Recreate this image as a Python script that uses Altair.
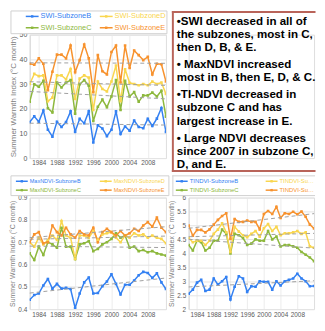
import altair as alt
import pandas as pd

years = list(range(1982, 2013))

swi_B = [14.6, 16.9, 14.7, 19.3, 11.5, 8.7, 14.7, 12.6, 14.6, 18.9, 10.7, 15.9, 14.1, 18.9, 6.3,
         13.3, 12.0, 8.9, 11.5, 18.9, 9.8, 12.8, 11.1, 15.2, 12.6, 12.1, 15.9, 13.0, 16.0, 20.3, 10.6]
swi_C = [22.8, 29.9, 28.9, 31.3, 20.2, 18.5, 30.6, 28.6, 30.6, 31.6, 18.0, 29.9, 31.6, 29.3, 15.0,
         20.8, 23.7, 20.6, 25.0, 31.6, 19.5, 31.3, 25.0, 26.7, 22.8, 25.4, 25.4, 26.5, 25.0, 27.3, 16.8]
swi_D = [30.0, 34.1, 33.2, 33.5, 23.0, 24.5, 33.5, 33.5, 31.9, 36.1, 24.0, 32.2, 33.5, 32.6, 19.5,
         31.0, 28.0, 27.0, 31.0, 37.5, 23.0, 36.0, 30.5, 30.0, 29.5, 30.0, 29.5, 31.0, 30.0, 30.6, 26.0]
swi_E = [38.2, 37.8, 40.4, 38.2, 27.5, 35.0, 41.9, 41.9, 40.4, 45.6, 34.8, 39.7, 46.0, 40.4, 26.7,
         41.7, 35.2, 33.9, 43.0, 45.6, 30.6, 45.6, 36.5, 43.6, 41.7, 39.7, 41.0, 33.9, 38.2, 38.0, 31.0]

max_B = [0.442, 0.463, 0.470, 0.506, 0.535, 0.492, 0.513, 0.492, 0.495, 0.490, 0.405, 0.470, 0.520,
         0.542, 0.470, 0.472, 0.503, 0.524, 0.556, 0.513, 0.466, 0.509, 0.509, 0.528, 0.552, 0.567,
         0.562, 0.540, 0.560, 0.520, 0.490]
max_C = [0.650, 0.620, 0.680, 0.643, 0.700, 0.690, 0.675, 0.765, 0.680, 0.680, 0.625, 0.690, 0.695,
         0.705, 0.660, 0.670, 0.690, 0.700, 0.715, 0.740, 0.720, 0.730, 0.675, 0.680, 0.660, 0.665,
         0.655, 0.660, 0.650, 0.645, 0.640]
max_D = [0.700, 0.680, 0.720, 0.690, 0.710, 0.730, 0.710, 0.795, 0.730, 0.720, 0.625, 0.730, 0.730,
         0.720, 0.750, 0.710, 0.735, 0.740, 0.745, 0.720, 0.700, 0.730, 0.720, 0.740, 0.730, 0.735,
         0.720, 0.730, 0.720, 0.715, 0.695]
max_E = [0.700, 0.735, 0.745, 0.695, 0.700, 0.775, 0.745, 0.730, 0.765, 0.735, 0.720, 0.750, 0.735,
         0.730, 0.765, 0.700, 0.745, 0.760, 0.745, 0.730, 0.750, 0.730, 0.740, 0.760, 0.750, 0.775,
         0.790, 0.770, 0.810, 0.765, 0.745]

ti_B = [2.55, 2.70, 2.95, 3.05, 2.65, 2.70, 3.10, 2.88, 3.00, 3.15, 2.35, 2.80, 3.18, 3.10, 2.62,
        2.82, 2.80, 3.00, 2.98, 2.98, 2.70, 3.00, 2.85, 3.00, 3.05, 3.10, 3.27, 3.10, 3.00, 2.82, 2.83]
ti_C = [4.30, 4.10, 4.45, 4.40, 4.10, 4.20, 4.45, 4.45, 4.85, 4.70, 4.00, 4.70, 4.65, 4.55, 4.30,
        4.35, 4.50, 4.45, 4.45, 4.80, 4.50, 4.60, 4.25, 4.30, 4.30, 4.25, 4.20, 4.05, 3.95, 3.85, 3.72]
ti_D = [4.55, 4.40, 4.45, 4.45, 4.30, 4.45, 4.70, 4.85, 5.08, 4.75, 4.05, 4.95, 4.78, 4.65, 4.58,
        4.70, 4.80, 4.60, 4.90, 5.05, 4.80, 4.95, 4.65, 4.72, 4.72, 4.75, 4.80, 4.70, 4.75, 4.25, 4.20]
ti_E = [5.00, 4.63, 4.84, 4.84, 4.75, 4.86, 5.03, 5.20, 5.34, 5.44, 4.52, 5.23, 5.13, 5.13, 5.18,
        5.13, 5.13, 4.86, 5.41, 5.52, 5.41, 5.67, 5.27, 5.44, 5.41, 5.49, 5.40, 5.50, 5.31, 5.03, 4.89]

x_labels = [1984, 1988, 1992, 1996, 2000, 2004, 2008]
swi_ticks = [0, 10, 20, 30, 40, 50]
max_ticks = [0.4, 0.5, 0.6, 0.7, 0.8, 0.9]
ti_ticks = [2, 2.5, 3, 3.5, 4, 4.5, 5, 5.5, 6]

paragraphs = [
    "•SWI decreased in all of\nthe subzones, most in C,\nthen D, B, & E.",
    "• MaxNDVI increased\nmost in B, then E, D, & C.",
    "•TI-NDVI decreased in\nsubzone C and has\nlargest increase in E.",
    "• Large NDVI decreases\nsince 2007 in subzone C,\nD, and E.",
]

Y_TITLE = "Summer Warmth Index (°C month)"
FONT = "Liberation Sans"
COLORS = {"B": "#3380f2", "C": "#8db83d", "D": "#f9d64f", "E": "#f7922e"}
ORDER = ["B", "D", "C", "E"]   # legend reading order: row 1 = B, D ; row 2 = C, E
ONE = pd.DataFrame({"a": [0]})


def long_df(prefix, series):
    rows = []
    for k, vals in series.items():
        for yr, v in zip(years, vals):
            rows.append({"year": yr, "value": v, "series": f"{prefix}-Subzone{k}"})
    return pd.DataFrame(rows)


def open_box(x0, x1, y0, y1, color, sw, fill=None):
    """Box with top, left and bottom sides (right side runs off the page)."""
    out = []
    if fill:
        out.append(alt.Chart(ONE).mark_rect(fill=fill).encode(
            x=alt.value(x0), x2=alt.value(x1), y=alt.value(y0), y2=alt.value(y1)))
    for (a, b, c, d) in [(x0, x1, y0, y0), (x0, x1, y1, y1), (x0, x0, y0, y1)]:
        out.append(alt.Chart(ONE).mark_rule(color=color, strokeWidth=sw, strokeCap="square").encode(
            x=alt.value(a), x2=alt.value(b), y=alt.value(c), y2=alt.value(d)))
    return out


def legend_layers(prefix, lg):
    """Excel-like boxed legend drawn as marks, 2 columns x 2 rows."""
    b = lg["box"]
    if lg.get("open"):
        layers = open_box(b[0], b[1], b[2], b[3], "#d0d0d0", 1, fill="white")
    else:
        layers = [alt.Chart(ONE).mark_rect(fill="white", stroke="#d0d0d0", strokeWidth=1).encode(
            x=alt.value(b[0]), x2=alt.value(b[1]), y=alt.value(b[2]), y2=alt.value(b[3]))]
    for i, k in enumerate(ORDER):
        col, row = i % 2, i // 2
        sx = lg["cols"][col]
        ry = lg["rows"][row]
        c = COLORS[k]
        layers.append(alt.Chart(ONE).mark_rule(color=c, strokeWidth=1.5).encode(
            x=alt.value(sx), x2=alt.value(sx + lg["sym"]), y=alt.value(ry)))
        layers.append(alt.Chart(ONE).mark_square(color=c, size=6, opacity=1).encode(
            x=alt.value(sx + lg["sym"] / 2), y=alt.value(ry)))
        tkw = dict(align="left", baseline="middle", fontSize=lg["fs"], font=FONT, color=c)
        if lg.get("limit") and col == 1:
            tkw.update(limit=lg["limit"], ellipsis="")
        layers.append(alt.Chart(ONE).mark_text(**tkw).encode(
            x=alt.value(sx + lg["sym"] + lg["gap"]), y=alt.value(ry),
            text=alt.value(f"{prefix}-Subzone{k}")))
    return layers


def panel(prefix, series, ydomain, yticks, yfmt, W, H, lg, xlab_fs, ylab_fs, title_fs, title_x):
    df = long_df(prefix, series)
    dom = [f"{prefix}-Subzone{k}" for k in ORDER]
    rng = [COLORS[k] for k in ORDER]
    xaxis = alt.Axis(values=x_labels, format="d", labelFontSize=xlab_fs,
                     labelColor="#595959", tickSize=0, labelPadding=2, domain=False,
                     labelOverlap=False, labelBound=False, labelFlush=False,
                     grid=True, gridColor="#ececec", title=None, labelFont=FONT)
    yaxis = alt.Axis(values=yticks, format=yfmt, labelFontSize=ylab_fs,
                     labelColor="#595959", tickSize=0, labelPadding=3, labelOverlap=False,
                     domainColor="#d9d9d9", grid=True, gridColor="#e4e4e4",
                     title=Y_TITLE, titleFontSize=title_fs, titleColor="#808080",
                     titleFontWeight="normal", titleX=title_x, titleFont=FONT, labelFont=FONT)
    xs = alt.Scale(domain=[1982, 2012], nice=False, zero=False)
    ys = alt.Scale(domain=ydomain, nice=False, zero=False)
    base = alt.Chart(df)
    lines = base.mark_line(
        strokeWidth=1.5, clip=True,
        point=alt.OverlayMarkDef(shape="square", size=7, filled=True),
    ).encode(x=alt.X("year:Q", scale=xs, axis=xaxis),
             y=alt.Y("value:Q", scale=ys, axis=yaxis),
             color=alt.Color("series:N", scale=alt.Scale(domain=dom, range=rng), legend=None))
    trend = base.transform_regression("year", "value", groupby=["series"]).mark_line(
        strokeDash=[4, 3], color="#a0a0a0", strokeWidth=1
    ).encode(x=alt.X("year:Q", scale=xs, axis=xaxis),
             y=alt.Y("value:Q", scale=ys, axis=yaxis), detail="series:N")
    return alt.layer(lines, trend, *legend_layers(prefix, lg)).properties(width=W, height=H)


swi = panel("SWI", {"B": swi_B, "C": swi_C, "D": swi_D, "E": swi_E}, [0, 50], swi_ticks, "d",
            138, 125,
            {"box": (-19, 139, -24, -1), "cols": (-4, 71), "rows": (-18.5, -7), "sym": 13,
             "gap": 2, "fs": 7.5},
            6.5, 7, 8, -12)

maxp = panel("MaxNDVI", {"B": max_B, "C": max_C, "D": max_D, "E": max_E}, [0.4, 0.9], max_ticks,
             ".1f", 138, 113,
             {"box": (-19, 141, -22, -2), "cols": (-14, 71), "rows": (-16.5, -7.5), "sym": 12,
              "gap": 2, "fs": 5.6},
             6.5, 6.5, 7, -14)

tip = panel("TINDVI", {"B": ti_B, "C": ti_C, "D": ti_D, "E": ti_E}, [2, 6], ti_ticks, ".1~f",
            127, 113,
            {"box": (-16, 127.5, -22, -2), "open": True, "cols": (-13, 78), "rows": (-16.5, -7.5),
             "sym": 12, "gap": 2, "fs": 6, "limit": 37},
            6.5, 6.5, 7, -14)

# text panel
text_layers = open_box(-16, 127.5, -23, 138, "#b9645a", 2)
tops = [-19, 24.4, 55.4, 99.4]
for p, ty in zip(paragraphs, tops):
    text_layers.append(
        alt.Chart(pd.DataFrame({"t": [p]})).mark_text(
            align="left", baseline="top", lineBreak="\n", lineHeight=13.3, fontSize=11.7,
            fontWeight="bold", font=FONT, color="#000000"
        ).encode(x=alt.value(-12), y=alt.value(ty), text="t:N")
    )
text_panel = alt.layer(*text_layers).properties(width=127, height=125)

chart = alt.concat(
    swi, text_panel, maxp, tip, columns=2, spacing={"row": 40, "column": 23}, bounds="flush"
).properties(padding=0).configure_view(strokeWidth=0).configure(font=FONT)

chart.save("out.html", embed_options={"renderer": "svg", "actions": False})
